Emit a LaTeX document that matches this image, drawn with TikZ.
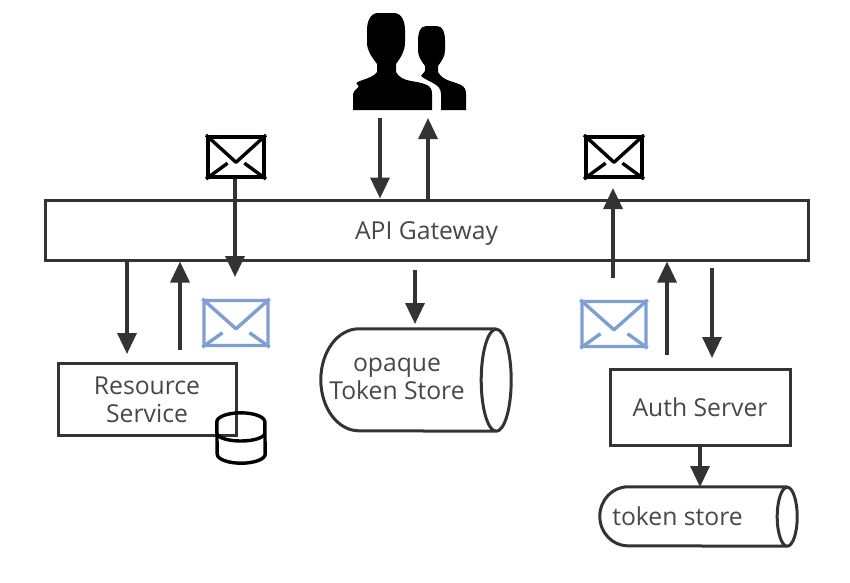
\documentclass[tikz,border=0pt]{standalone}
\usepackage{fontspec}
\setmainfont{Open Sans}
\usetikzlibrary{arrows.meta,calc}
\definecolor{inkline}{HTML}{333333}
\definecolor{inktext}{HTML}{484848}
\definecolor{mailblue}{HTML}{7E9FD3}
\tikzset{
  box/.style={draw=inkline,line width=3pt,rectangle,inner sep=0pt,text=inktext,align=center,
    font=\fontsize{24.7}{28}\selectfont},
  store/.style={rectangle,inner sep=0pt,text=inktext,font=\fontsize{24.7}{28}\selectfont},
  mailblack/.style={draw=black,line width=4pt,rectangle,inner sep=0pt,minimum width=56pt,minimum height=40pt},
  mailpale/.style={draw=mailblue,line width=3.4pt,rectangle,rounded corners=2pt,inner sep=0pt,minimum width=64pt,minimum height=45pt},
  flow/.style={draw=inkline,line width=3.4pt,-{Triangle[width=19pt,length=21pt]}},
  rim/.style={draw=inkline,line width=3pt}
}
% envelope flaps inside a mail node: name, colour, stroke length
\newcommand{\mailflaps}[3]{
  \draw[#2,line width=3.4pt,line join=round]
    (#1.north west) -- ($(#1.north)!0.62!(#1.south)$) -- (#1.north east);
  \draw[#2,line width=3.4pt] (#1.south west) -- ($(#1.south west)!#3!(#1.north east)$);
  \draw[#2,line width=3.4pt] (#1.south east) -- ($(#1.south east)!#3!(#1.north west)$);
}
\begin{document}
\begin{tikzpicture}[x=1pt,y=-1pt]
  \useasboundingbox (0,0) rectangle (850,582);
  \fill[white] (0,0) rectangle (850,582);

  \node[box,minimum width=763pt,minimum height=60pt,text height=24pt,text depth=5.5pt] (gateway) at (426.5,230) {API Gateway};
  \node[box,minimum width=178pt,minimum height=72pt] (resource) at (147,399.5) {Resource\\Service};
  \node[box,minimum width=180pt,minimum height=76pt] (auth) at (700,407) {Auth Server};
  \node[store,minimum width=190pt,minimum height=102pt] (opaque) at (416,380)
    {\hspace*{-38pt}\begin{tabular}{@{}c@{}}opaque\\Token Store\end{tabular}};
  \node[store,minimum width=197pt,minimum height=59pt] (tokens) at (698.5,516.5)
    {\hspace*{-42pt}token store};

  \node[mailblack] (mailA) at (236,157) {};
  \node[mailblack] (mailB) at (614,157) {};
  \node[mailpale] (mailC) at (236,323) {};
  \node[mailpale] (mailD) at (614,324) {};
  \node[minimum width=114pt,minimum height=98pt,inner sep=0pt] (users) at (409,61) {};
  \node[minimum width=48pt,minimum height=48pt,inner sep=0pt] (db) at (241,438) {};

  \mailflaps{mailA}{black}{0.36}
  \mailflaps{mailB}{black}{0.36}
  \mailflaps{mailC}{mailblue}{0.3}
  \mailflaps{mailD}{mailblue}{0.3}

  \draw[rim] ($(opaque.north east)+(-15,0)$) -- ($(opaque.north west)+(38,0)$)
    arc[start angle=90,end angle=270,x radius=38pt,y radius=51pt]
    -- ($(opaque.south east)+(-15,0)$)
    arc[start angle=-90,end angle=90,x radius=15pt,y radius=51pt]
    arc[start angle=90,end angle=270,x radius=15pt,y radius=51pt];
  \draw[rim] ($(tokens.north east)+(-10,0)$) -- ($(tokens.north west)+(28,0)$)
    arc[start angle=90,end angle=270,x radius=28pt,y radius=29.5pt]
    -- ($(tokens.south east)+(-10,0)$)
    arc[start angle=-90,end angle=90,x radius=10pt,y radius=29.5pt]
    arc[start angle=90,end angle=270,x radius=10pt,y radius=29.5pt];

  % database on the corner of the resource box
  \draw[black,line width=3.4pt] ($(db.north west)+(0,8)$)
    arc[start angle=180,end angle=0,x radius=24pt,y radius=9pt]
    -- ($(db.south east)+(0,-8)$)
    arc[start angle=0,end angle=-180,x radius=24pt,y radius=9pt] -- cycle;
  \draw[black,line width=3.4pt] ($(db.west)+(0,-5)$)
    arc[start angle=180,end angle=360,x radius=24pt,y radius=8pt];

  % the two people
  \fill[black] (378,13) -- (394,13) to[out=0,in=90] (405,30) -- (405,42) to[out=-90,in=55] (396,64) -- (396,72)
    to[out=-60,in=155] (427,85) to[out=-25,in=90] (432,94) -- (432,110) -- (353,110) -- (353,94)
    to[out=90,in=-25] (358,85) to[out=155,in=-120] (377,72) -- (377,64)
    to[out=125,in=-90] (367,42) -- (367,30) to[out=90,in=180] (378,13) -- cycle;
  \fill[black] (426,26) -- (437,26) to[out=0,in=90] (445,40) -- (445,50) to[out=-90,in=55] (438,66) -- (438,72)
    to[out=-60,in=155] (461,85) to[out=-25,in=90] (466,94) -- (466,110) -- (441,110) -- (441,94)
    to[out=90,in=-40] (421,76) to[out=40,in=-120] (425,71) -- (425,66)
    to[out=125,in=-90] (418,50) -- (418,40) to[out=90,in=180] (426,26) -- cycle;

  \coordinate (r1) at (127,354);
  \coordinate (r2) at (180,350);
  \coordinate (m1) at (235,277);
  \coordinate (u1) at (380,118);
  \coordinate (u2) at (428,118);
  \coordinate (o1) at (415,270);
  \coordinate (o2) at (415,324);
  \coordinate (m2) at (613,278);
  \coordinate (m3) at (613,188);
  \coordinate (a1) at (667,355);
  \coordinate (a2) at (712,268);
  \coordinate (a3) at (712,358);
  \coordinate (a4) at (700,445);
  \coordinate (a5) at (700,487);

  \begin{scope}
    \draw[flow] (r1 |- gateway.south) to (r1);
    \draw[flow] (r2) to (r2 |- gateway.south);
    \draw[flow] (m1 |- mailA.south) to (m1);
    \draw[flow] (u1) to (u1 |- gateway.north);
    \draw[flow] (u2 |- gateway.north) to (u2);
    \draw[flow] (o1) to (o2);
    \draw[flow] (m2) to (m3);
    \draw[flow] (a1) to (a1 |- gateway.south);
    \draw[flow] (a2) to (a3);
    \draw[flow] (a4) to (a5);
  \end{scope}
\end{tikzpicture}
\end{document}
